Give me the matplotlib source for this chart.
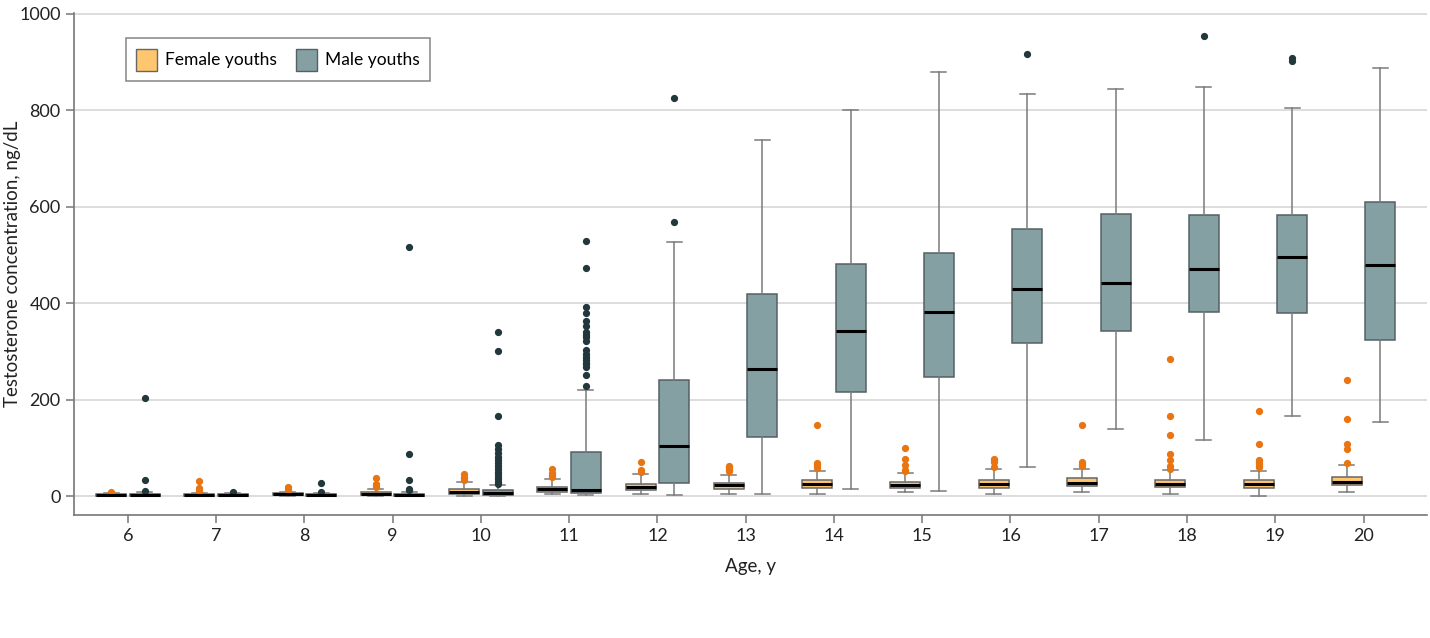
import matplotlib
matplotlib.use("Agg")
import matplotlib.pyplot as plt
from matplotlib.patches import Patch

plt.rcParams['font.family'] = ['Lato', 'DejaVu Sans']

# ages on the x axis
ages = [6, 7, 8, 9, 10, 11, 12, 13, 14, 15, 16, 17, 18, 19, 20]

# female youths (ng/dL)
f_lo  = [0, 0, 0, 0, 0, 4, 5, 4, 4, 8, 4, 8, 4, 0, 9]
f_q1  = [1, 1, 2, 2, 3.5, 8, 12, 14.5, 16, 17.5, 17.5, 21, 18, 17.5, 22]
f_med = [2, 3, 4, 5, 9, 14, 19, 22, 24, 23, 25, 28, 26, 25, 30]
f_q3  = [4, 5, 7, 8, 15, 19, 26, 28, 32.5, 30, 34, 36.5, 32.5, 33, 39]
f_hi  = [6, 7, 8, 14, 29, 35, 45, 43, 52, 47, 57, 57, 54, 51, 65]
f_out = [
    [8],
    [9, 12, 16, 31],
    [10, 14, 18],
    [19, 22, 26, 37],
    [34, 37, 40, 46],
    [40, 44, 47, 56],
    [49, 54, 70],
    [51, 54, 57, 60, 63],
    [59, 62, 66, 69, 148],
    [52, 55, 65, 76, 100],
    [61, 71, 74, 77],
    [62, 65, 67, 70, 148],
    [57, 62, 75, 87, 126, 166, 284],
    [60, 63, 66, 69, 72, 75, 109, 176],
    [68, 98, 109, 160, 240],
]

# male youths (ng/dL)
m_lo  = [0, 0, 0, 0, 0, 2, 3, 3.5, 15, 10, 61, 140, 117, 166, 154]
m_q1  = [0.5, 0.5, 0.5, 0.5, 2, 5.5, 27.5, 121.5, 216, 248, 318, 343, 382, 380, 324]
m_med = [1.5, 1.5, 2, 2, 6, 12, 104, 264, 342, 382, 429, 442, 470, 495, 480]
m_q3  = [4, 3.5, 4, 5, 12, 92, 240, 419, 481, 504, 553, 585, 584, 584, 611]
m_hi  = [8, 7, 7, 9, 22, 221, 528, 738, 800, 879, 835, 845, 849, 805, 887]
m_out = [
    [10, 34, 204],
    [9],
    [9, 28],
    [12, 14, 34, 88, 517],
    [26, 30, 35, 40, 45, 50, 56, 62, 68, 75, 82, 90, 98, 105, 167, 300, 341],
    [228, 252, 267, 273, 277, 283, 288, 295, 302, 321, 330, 335, 340, 352,
     363, 380, 392, 473, 529],
    [568, 825],
    [],
    [],
    [],
    [918],
    [],
    [954],
    [903, 908],
    [],
]

female_color = '#FEC66F'
male_color = '#84A0A3'
female_dot = '#E87511'
male_dot = '#22383D'

def make_stats(lo, q1, med, q3, hi, out):
    stats = []
    for i in range(len(ages)):
        stats.append({'whislo': lo[i], 'q1': q1[i], 'med': med[i], 'q3': q3[i],
                      'whishi': hi[i], 'fliers': out[i]})
    return stats

fig = plt.figure(figsize=(14.3, 6.38), dpi=100)
ax = fig.add_axes([0.0517, 0.193, 0.9463, 0.7866])

offset = 0.19
width = 0.34

common = dict(widths=width, patch_artist=True, showfliers=True,
              whiskerprops=dict(color='#7a7a7a', linewidth=1.1),
              capprops=dict(color='#7a7a7a', linewidth=1.1),
              medianprops=dict(color='black', linewidth=2.2, solid_capstyle='butt'),
              zorder=3)

ax.bxp(make_stats(f_lo, f_q1, f_med, f_q3, f_hi, f_out),
       positions=[a - offset for a in ages],
       boxprops=dict(facecolor=female_color, edgecolor='#666666', linewidth=1.1),
       flierprops=dict(marker='o', markerfacecolor=female_dot, markeredgecolor=female_dot,
                       markersize=4.2),
       **common)
ax.bxp(make_stats(m_lo, m_q1, m_med, m_q3, m_hi, m_out),
       positions=[a + offset for a in ages],
       boxprops=dict(facecolor=male_color, edgecolor='#556063', linewidth=1.1),
       flierprops=dict(marker='o', markerfacecolor=male_dot, markeredgecolor=male_dot,
                       markersize=4.2),
       **common)

ax.set_xlim(5.39, 20.72)
ax.set_ylim(-39, 1002)
ax.set_xticks(ages)
ax.set_xticklabels([str(a) for a in ages])
ax.set_yticks([0, 200, 400, 600, 800, 1000])

ax.yaxis.grid(True, color='#dddddd', linewidth=1.4, zorder=0)
ax.set_axisbelow(True)
for s in ['top', 'right']:
    ax.spines[s].set_visible(False)
for s in ['left', 'bottom']:
    ax.spines[s].set_color('#777777')
    ax.spines[s].set_linewidth(1.2)
ax.tick_params(axis='both', colors='#777777', labelcolor='#222222',
               labelsize=13, length=6, width=1.1)

ax.set_xlabel('Age, y', fontsize=13.5, color='#222222', labelpad=10)
ax.set_ylabel('Testosterone concentration, ng/dL', fontsize=13.5, color='#222222')
ax.yaxis.set_label_coords(-0.039, 0.5)

handles = [Patch(facecolor=female_color, edgecolor='#666666', label='Female youths'),
           Patch(facecolor=male_color, edgecolor='#556063', label='Male youths')]
leg = ax.legend(handles=handles, loc='upper left', bbox_to_anchor=(0.0384, 0.95),
                borderaxespad=0, ncol=2, fontsize=12.5, frameon=True, fancybox=False,
                edgecolor='#666666', handlelength=1.2, handleheight=1.6,
                columnspacing=1.1, borderpad=0.6, handletextpad=0.45)
leg.get_frame().set_linewidth(1.1)

fig.savefig('out.png', dpi=100)
